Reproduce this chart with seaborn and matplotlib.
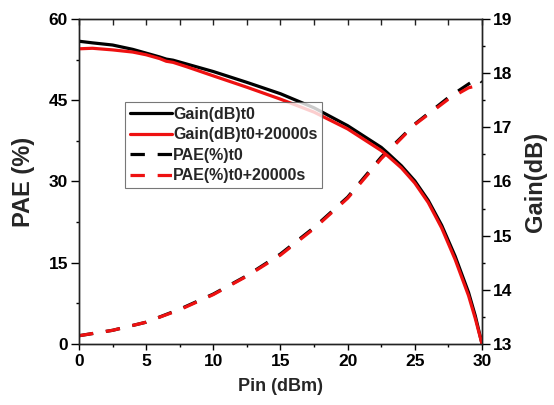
import matplotlib
matplotlib.use("Agg")
import matplotlib.pyplot as plt
import seaborn as sns
from matplotlib.ticker import MultipleLocator

# Data
pin_gain = [0, 1, 2.5, 4, 5, 6, 6.5, 7, 8, 10, 12.5, 15, 17.5, 20, 22.5, 23, 24, 25, 26, 27, 28, 29, 29.5, 30]
gain_t0 = [18.59, 18.56, 18.52, 18.44, 18.37, 18.30, 18.26, 18.24, 18.17, 18.03, 17.83, 17.62, 17.36, 17.03,
           16.63, 16.52, 16.29, 16.01, 15.65, 15.19, 14.62, 13.95, 13.52, 13.0]
gain_t1 = [18.45, 18.46, 18.43, 18.39, 18.34, 18.27, 18.22, 18.20, 18.12, 17.95, 17.74, 17.52, 17.28, 16.97,
           16.57, 16.47, 16.25, 15.97, 15.61, 15.14, 14.56, 13.89, 13.47, 13.0]

pin_pae = [0, 2.5, 5, 7.5, 10, 12.5, 15, 17.5, 20, 22.5, 25, 27.5, 29, 29.5, 29.8, 30]
pae_t0 = [1.5, 2.5, 4.0, 6.4, 9.2, 12.6, 16.6, 21.5, 27.1, 34.5, 40.6, 45.5, 48.0, 48.8, 48.9, 48.3]
pae_t1 = [1.5, 2.5, 4.0, 6.3, 9.1, 12.5, 16.4, 21.3, 26.9, 34.2, 40.5, 45.2, 47.3, 47.6, 47.8, 47.8]

labels = ["Gain(dB)t0", "Gain(dB)t0+20000s", "PAE(%)t0", "PAE(%)t0+20000s"]

sns.set_style("white")
plt.rcParams['font.family'] = ['Liberation Sans', 'DejaVu Sans']
plt.rcParams['font.weight'] = 'bold'

fig = plt.figure(figsize=(5.54, 4.05), dpi=100)
ax = fig.add_axes([0.1426, 0.151, 0.7274, 0.802])
ax2 = ax.twinx()

dash = (4.5, 4.0)
sns.lineplot(x=pin_pae, y=pae_t0, ax=ax, color="black", lw=2.3, label=labels[2])
sns.lineplot(x=pin_pae, y=pae_t1, ax=ax, color="#ee1111", lw=2.3, label=labels[3])
ax.lines[0].set_dashes(dash)
ax.lines[1].set_dashes(dash)

sns.lineplot(x=pin_gain, y=gain_t0, ax=ax2, color="black", lw=2.3, label=labels[0])
sns.lineplot(x=pin_gain, y=gain_t1, ax=ax2, color="#ee1111", lw=2.3, label=labels[1])

ax.set_xlim(0, 30)
ax.set_ylim(0, 60)
ax2.set_ylim(13, 19)

ax.xaxis.set_major_locator(MultipleLocator(5))
ax.xaxis.set_minor_locator(MultipleLocator(2.5))
ax.yaxis.set_major_locator(MultipleLocator(15))
ax.yaxis.set_minor_locator(MultipleLocator(7.5))
ax2.yaxis.set_major_locator(MultipleLocator(1))
ax2.yaxis.set_minor_locator(MultipleLocator(0.5))

for a in (ax, ax2):
    for s in a.spines.values():
        s.set_color("#222222")
        s.set_linewidth(1.0)

ax.tick_params(axis='x', which='both', direction='out', bottom=True, top=False, labelsize=12.5, width=1, colors='black', pad=3)
ax.tick_params(axis='x', which='major', length=4)
ax.tick_params(axis='x', which='minor', length=2.5)
ax.tick_params(axis='y', which='both', direction='out', left=True, labelsize=12.5, width=1, colors='black', pad=2)
ax.tick_params(axis='y', which='major', length=6)
ax.tick_params(axis='y', which='minor', length=2.5)
ax2.tick_params(axis='y', which='both', direction='out', right=True, labelsize=12.5, width=1, colors='black', pad=2)
ax2.tick_params(axis='y', which='major', length=6)
ax2.tick_params(axis='y', which='minor', length=2.5)

# top ticks pointing inward
sec = ax.secondary_xaxis('top')
sec.xaxis.set_major_locator(MultipleLocator(2.5))
sec.tick_params(axis='x', direction='in', length=4, width=1, labeltop=False, colors='#222222')
sec.spines['top'].set_visible(False)

for lab in ax.get_xticklabels() + ax.get_yticklabels() + ax2.get_yticklabels():
    lab.set_fontweight('bold')

ax.set_xlabel("Pin (dBm)", fontsize=13, fontweight='bold', labelpad=7)
ax.set_ylabel("PAE (%)", fontsize=17, fontweight='bold', labelpad=10)
ax2.set_ylabel("Gain(dB)", fontsize=17, fontweight='bold', labelpad=8)

h1, l1 = ax.get_legend_handles_labels()
h2, l2 = ax2.get_legend_handles_labels()
if ax.get_legend():
    ax.get_legend().remove()
leg = ax2.legend(h2 + h1, l2 + l1, loc='upper left', bbox_to_anchor=(0.115, 0.745),
                 fontsize=11.5, frameon=True, fancybox=False, handlelength=2.6,
                 handletextpad=0.1, borderpad=0.3, labelspacing=0.35, borderaxespad=0)
leg.get_frame().set_edgecolor('#555555')
leg.get_frame().set_linewidth(0.8)
for t in leg.get_texts():
    t.set_fontweight('bold')

fig.savefig("out.png", dpi=100)
